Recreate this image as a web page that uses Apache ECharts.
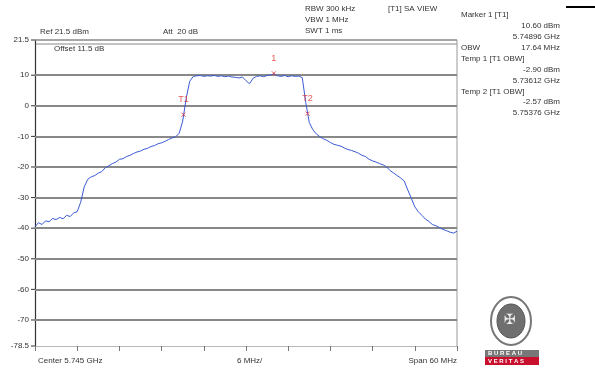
<!DOCTYPE html>
<html>
<head>
<meta charset="utf-8">
<script src="https://cdn.jsdelivr.net/npm/echarts@6/dist/echarts.min.js"></script>
<style>
html,body{margin:0;padding:0;background:#fff;}
#chart{width:595px;height:374px;}
</style>
</head>
<body>
<div id="chart"></div>
<script>
// Frequency offset from centre (MHz), step 0.5 MHz from -30 to +30
const freqStart = -30;
const freqStep = 0.5;
const traceLevels = [
  -39.5, -38.2, -38.8, -37.6, -37.9, -36.8, -37.2, -36.5, -36.9, -35.8, -36.2, -35.0, -34.6,
  -31.5, -26.5, -24.0, -23.2, -22.8, -22.0, -21.5, -20.2, -19.6, -18.9, -18.4, -17.5, -17.3,
  -16.6, -16.2, -15.6, -15.1, -14.8, -14.2, -13.9, -13.3, -13.0, -12.4, -12.1, -11.6, -11.0,
  -10.5, -10.1, -9.0, -5.0, 2.5, 8.0, 9.6, 9.8, 9.9, 9.6, 9.8, 9.7, 9.9, 9.6, 9.8, 9.5,
  9.7, 9.4, 9.3, 9.1, 9.4, 8.2, 7.2, 9.0, 9.6, 9.8, 9.5, 9.9, 10.1, 10.4, 9.8, 9.6, 9.9,
  9.5, 9.8, 9.6, 9.7, 9.2, 1.0, -5.5, -7.8, -9.2, -10.1, -10.8, -11.3, -12.0, -12.6, -12.9,
  -13.2, -13.8, -14.3, -14.6, -15.0, -15.5, -16.2, -16.6, -17.5, -18.0, -18.4, -18.9, -19.3,
  -20.0, -21.2, -22.0, -22.8, -23.6, -24.6, -27.5, -30.2, -33.0, -34.6, -35.8, -37.0, -37.8,
  -38.8, -39.2, -39.8, -40.4, -40.8, -41.3, -41.6, -41.0
];
const yTickLabels = [21.5, 10, 0, -10, -20, -30, -40, -50, -60, -70, -78.5];
const markerNames = ['1', 'T1', 'T2'];
const markerFreqs = [3.96, -8.88, 8.76];
const markerLevels = [10.60, -2.90, -2.57];
const headerLeft = ['Ref 21.5 dBm', 'Att  20 dB'];
const headerMid = ['RBW 300 kHz', 'VBW 1 MHz', 'SWT 1 ms'];
const headerView = '[T1] SA VIEW';
const markerPanel = [
  ['Marker 1 [T1]', ''], ['', '10.60 dBm'], ['', '5.74896 GHz'], ['OBW', '17.64 MHz'],
  ['Temp 1 [T1 OBW]', ''], ['', '-2.90 dBm'], ['', '5.73612 GHz'],
  ['Temp 2 [T1 OBW]', ''], ['', '-2.57 dBm'], ['', '5.75376 GHz']
];
const bottomLabels = ['Center 5.745 GHz', '6 MHz/', 'Span 60 MHz'];
const offsetText = 'Offset 11.5 dB';

const traceData = traceLevels.map((v, i) => [freqStart + i * freqStep, v]);
const FONT = 'Liberation Sans';
const txt = {fontFamily: FONT, fontSize: 8, fill: '#333'};

const chart = echarts.init(document.getElementById('chart'), null, {renderer: 'canvas'});

const markLineData = yTickLabels.map(v => ({
  yAxis: v,
  lineStyle: {
    color: (v === -78.5) ? 'rgba(0,0,0,0)' : '#888',
    width: (v === -78.5) ? 0 : (v === 21.5 ? 1.5 : 2),
    type: 'solid'
  },
  label: {show: true, position: 'start', formatter: String(v), distance: 6,
    fontFamily: FONT, fontSize: 8, color: '#333'}
}));

const graphics = [];
headerLeft.forEach((t, i) => graphics.push({type: 'text', left: i === 0 ? 40 : 163, top: 28, style: Object.assign({text: t}, txt)}));
headerMid.forEach((t, i) => graphics.push({type: 'text', left: 305, top: 5 + i * 11, style: Object.assign({text: t}, txt)}));
graphics.push({type: 'text', left: 388, top: 5, style: Object.assign({text: headerView}, txt)});
markerPanel.forEach((row, i) => {
  const y = 11 + i * 10.9;
  if (row[0]) graphics.push({type: 'text', left: 461, top: y, style: Object.assign({text: row[0]}, txt)});
  if (row[1]) graphics.push({type: 'text', right: 35, top: y, style: Object.assign({text: row[1], align: 'right'}, txt)});
});
graphics.push({type: 'text', left: 54, top: 45, style: Object.assign({text: offsetText}, txt)});
graphics.push({type: 'text', left: 38, top: 357, style: Object.assign({text: bottomLabels[0]}, txt)});
graphics.push({type: 'text', left: 237, top: 357, style: Object.assign({text: bottomLabels[1]}, txt)});
graphics.push({type: 'text', right: 138, top: 357, style: Object.assign({text: bottomLabels[2], align: 'right'}, txt)});
graphics.push({type: 'rect', shape: {x: 566, y: 6, width: 29, height: 2}, style: {fill: '#000'}});
graphics.push({type: 'line', shape: {x1: 35, y1: 44, x2: 457, y2: 44}, style: {stroke: '#888', lineWidth: 1}});
graphics.push({type: 'line', shape: {x1: 457, y1: 40, x2: 457, y2: 346}, style: {stroke: '#999', lineWidth: 1}});
// logo (Bureau Veritas approximation)
graphics.push({type: 'ellipse', shape: {cx: 511, cy: 321, rx: 20, ry: 24}, style: {fill: '#fff', stroke: '#777', lineWidth: 2}});
graphics.push({type: 'ellipse', shape: {cx: 511, cy: 321, rx: 14, ry: 17}, style: {fill: '#6f6f6f', stroke: '#555', lineWidth: 1}});
graphics.push({type: 'text', left: 504, top: 313, style: {text: '✠', fontSize: 14, fill: '#eee', fontFamily: 'DejaVu Sans'}});
graphics.push({type: 'rect', shape: {x: 485, y: 350, width: 54, height: 7}, style: {fill: '#777'}});
graphics.push({type: 'rect', shape: {x: 485, y: 357, width: 54, height: 8}, style: {fill: '#c8102e'}});
graphics.push({type: 'text', left: 488, top: 350, style: {text: 'B U R E A U', fontSize: 6, fill: '#fff', fontFamily: FONT, fontWeight: 'bold'}});
graphics.push({type: 'text', left: 488, top: 358, style: {text: 'V E R I T A S', fontSize: 6, fill: '#fff', fontFamily: FONT, fontWeight: 'bold'}});

chart.setOption({
  animation: false,
  backgroundColor: '#fff',
  grid: {left: 35, right: 138, top: 40, bottom: 28},
  xAxis: {
    type: 'value', min: -30, max: 30, interval: 6,
    axisLine: {show: true, onZero: false, lineStyle: {color: '#bbb', width: 1}},
    axisTick: {show: true, length: 5, inside: false, lineStyle: {color: '#777'}},
    axisLabel: {show: false},
    splitLine: {show: false}
  },
  yAxis: {
    type: 'value', min: -78.5, max: 21.5,
    axisLine: {show: true, onZero: false, lineStyle: {color: '#333', width: 1.2}},
    axisTick: {show: false},
    axisLabel: {show: false},
    splitLine: {show: false}
  },
  series: [
    {
      type: 'line', data: traceData, showSymbol: false, symbol: 'none',
      lineStyle: {color: '#3b5bd6', width: 1},
      z: 3,
      markLine: {silent: true, symbol: 'none', data: markLineData, z: 1}
    },
    {
      type: 'scatter',
      data: markerNames.map((n, i) => ({name: n, value: [markerFreqs[i], markerLevels[i]]})),
      symbol: 'path://M0,0L10,10M10,0L0,10', symbolSize: 4,
      itemStyle: {color: 'none', borderColor: '#e03030', borderWidth: 1},
      label: {show: true, position: 'top', distance: 6, formatter: p => p.name,
        color: '#e03030', fontFamily: FONT, fontSize: 9},
      z: 4
    }
  ],
  graphic: graphics
});

// small left ticks at each labelled level, placed through the axis scale
const tickGraphics = yTickLabels.map(v => {
  const p = chart.convertToPixel({gridIndex: 0}, [-30, v]);
  return {type: 'line', shape: {x1: p[0] - 4, y1: p[1], x2: p[0], y2: p[1]}, style: {stroke: '#333', lineWidth: 1}};
});
chart.setOption({graphic: graphics.concat(tickGraphics)});
</script>
</body>
</html>
